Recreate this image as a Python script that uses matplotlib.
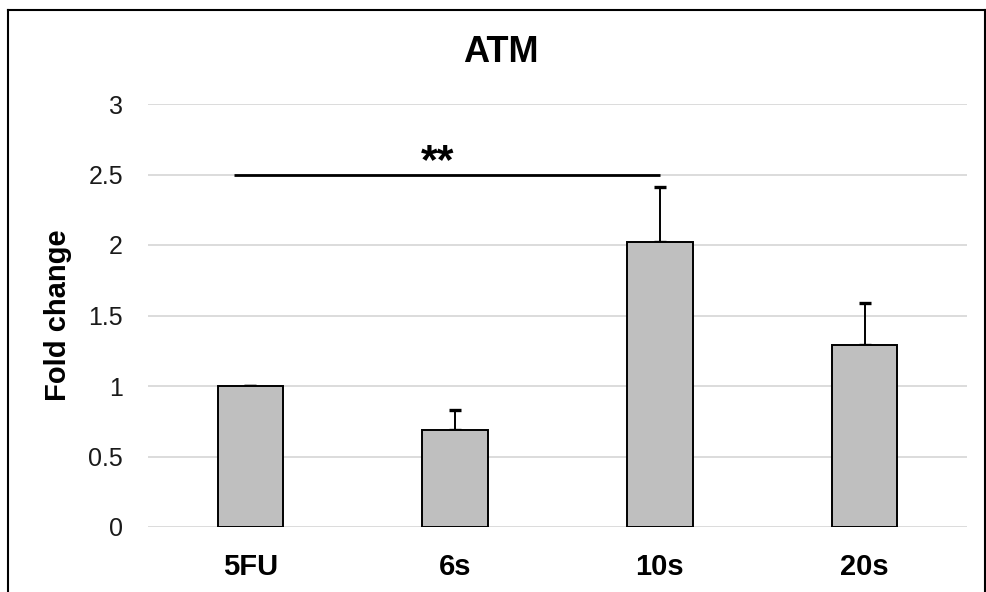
import matplotlib
matplotlib.use("Agg")
import matplotlib.pyplot as plt
from matplotlib.lines import Line2D

# ---------------------------
# Datos
# ---------------------------
categorias = ["5FU", "6s", "10s", "20s"]
fold_change = [1.00, 0.69, 2.02, 1.29]
error_sup = [0.00, 0.14, 0.39, 0.30]
yticks = [0, 0.5, 1, 1.5, 2, 2.5, 3]
ytick_labels = ["0", "0.5", "1", "1.5", "2", "2.5", "3"]

# barra de significancia (entre 5FU y 10s)
sig_inicio, sig_fin, sig_altura = -0.08, 2.0, 2.5
sig_texto = "**"

plt.rcParams["font.family"] = ["Liberation Sans", "DejaVu Sans"]

fig = plt.figure(figsize=(9.87, 5.92), dpi=100)
ax = fig.add_axes([148 / 987, 1 - 527 / 592, (967 - 148) / 987, (527 - 104) / 592])

x = list(range(len(categorias)))
ax.bar(x, fold_change, width=0.32, color="#bfbfbf", edgecolor="black",
       linewidth=1.4, zorder=3)
ax.errorbar(x, fold_change, yerr=[[0] * len(error_sup), error_sup], fmt="none",
            ecolor="black", elinewidth=1.4, capsize=4, capthick=2.4, zorder=2)

ax.set_xlim(-0.5, len(categorias) - 0.5)
ax.set_ylim(0, 3)
ax.set_yticks(yticks)
ax.set_yticklabels(ytick_labels, fontsize=18, color="#1a1a1a")
ax.set_xticks(x)
ax.set_xticklabels(categorias, fontsize=21, fontweight="bold")
ax.tick_params(axis="both", length=0)
ax.tick_params(axis="y", pad=18)
ax.tick_params(axis="x", pad=19)
ax.yaxis.grid(True, color="#d9d9d9", linewidth=1.3, zorder=0)
ax.set_axisbelow(True)
for s in ax.spines.values():
    s.set_visible(False)

ax.set_ylabel("Fold change", fontsize=21, fontweight="bold")
ax.yaxis.set_label_coords(-(148 - 72) / 819, 0.5)

# linea de significancia
ax.plot([sig_inicio, sig_fin], [sig_altura, sig_altura], color="black",
        linewidth=2.0, solid_capstyle="butt", zorder=4)
ax.text((437 - 250) / 205, sig_altura + 0.01, sig_texto, ha="center",
        va="baseline", fontsize=31, fontweight="bold")

fig.text(501 / 987, 1 - 52 / 592, "ATM", ha="center", va="center",
         fontsize=26, fontweight="bold")

# marco exterior (izquierda, arriba, derecha)
for xs, ys in [([8 / 987, 8 / 987], [0, 1 - 10 / 592]),
               ([8 / 987, 985 / 987], [1 - 10 / 592, 1 - 10 / 592]),
               ([985 / 987, 985 / 987], [0, 1 - 10 / 592])]:
    fig.add_artist(Line2D(xs, ys, color="black", linewidth=1.5))

fig.savefig("out.png", dpi=100)
